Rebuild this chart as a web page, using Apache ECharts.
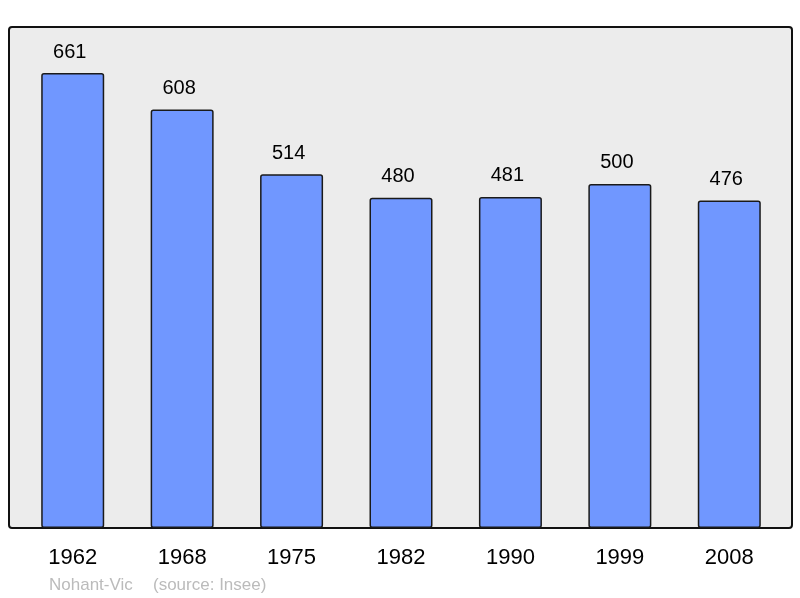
<!DOCTYPE html>
<html>
<head>
<meta charset="utf-8">
<script src="https://cdn.jsdelivr.net/npm/echarts@6/dist/echarts.min.js"></script>
<style>
  html, body { margin: 0; padding: 0; background: #fff; }
  #chart { width: 800px; height: 598px; }
</style>
</head>
<body>
<div id="chart"></div>
<script>
// population par recensement
const years = ['1962', '1968', '1975', '1982', '1990', '1999', '2008']
const population = [661, 608, 514, 480, 481, 500, 476]
const commune = 'Nohant-Vic'
const source = '(source: Insee)'

const myChart = echarts.init(document.getElementById('chart'))
myChart.setOption({
  animation: false,
  textStyle: { fontFamily: 'Liberation Sans, Arial, sans-serif' },
  grid: { left: 18, right: 16, top: 27, bottom: 70 },
  graphic: [
    {
      type: 'rect',
      z: -10,
      shape: { x: 9, y: 27, width: 783, height: 501, r: 3 },
      style: { fill: '#ececec', stroke: '#111', lineWidth: 2 }
    },
    {
      type: 'text',
      left: 49,
      top: 577,
      style: { text: commune, fill: '#bbbbbb', font: '17px Liberation Sans, Arial, sans-serif' }
    },
    {
      type: 'text',
      left: 153,
      top: 577,
      style: { text: source, fill: '#bbbbbb', font: '17px Liberation Sans, Arial, sans-serif' }
    }
  ],
  xAxis: {
    type: 'category',
    data: years,
    axisLine: { show: false },
    axisTick: { show: false },
    axisLabel: { color: '#000', fontSize: 22, margin: 19 }
  },
  yAxis: {
    type: 'value',
    min: 0,
    max: 728,
    show: false,
    splitLine: { show: false }
  },
  series: [
    {
      type: 'bar',
      data: population,
      barWidth: 63,
      itemStyle: {
        color: '#7097ff',
        borderColor: '#1a1a1a',
        borderWidth: 1.5,
        borderRadius: 2
      },
      label: {
        show: true,
        position: 'top',
        distance: 11,
        color: '#000',
        fontSize: 20,
        offset: [-3, 0]
      }
    }
  ]
})
</script>
</body>
</html>
